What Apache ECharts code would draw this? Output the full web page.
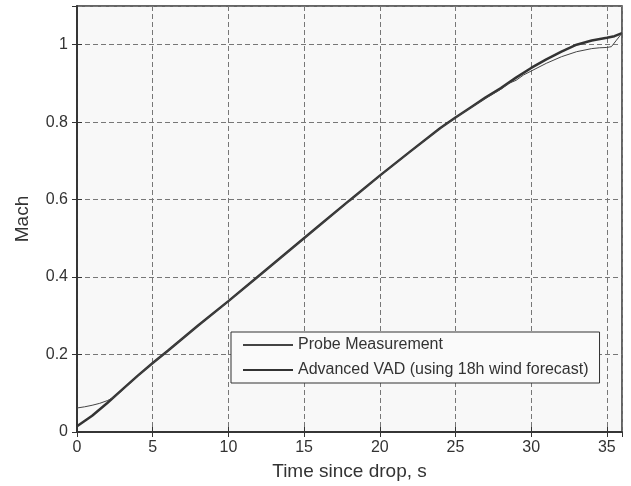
<!DOCTYPE html>
<html>
<head>
<meta charset="utf-8">
<script src="https://cdn.jsdelivr.net/npm/echarts@6/dist/echarts.min.js"></script>
<style>html,body{margin:0;padding:0;background:#fff}#chart{width:631px;height:486px}</style>
</head>
<body>
<div id="chart"></div>
<script>
// ==================== DATA ====================
const vadTime = [0, 1, 2, 3, 4, 5, 6, 8, 10, 12, 14, 16, 18, 20, 22, 24, 25, 26, 27, 28, 29, 30, 31, 32, 33, 34, 35, 35.5, 36];
const vadMach = [0.015, 0.042, 0.075, 0.11, 0.145, 0.178, 0.21, 0.275, 0.338, 0.403, 0.468, 0.533, 0.598, 0.662, 0.724, 0.785, 0.812, 0.838, 0.864, 0.888, 0.915, 0.94, 0.962, 0.982, 1.0, 1.011, 1.018, 1.022, 1.03];
const probeTime = [0, 0.5, 1, 1.5, 2, 2.5, 3, 4, 5, 6, 8, 10, 12, 14, 16, 18, 20, 22, 24, 25, 26, 27, 28, 28.5, 29, 29.5, 30, 31, 32, 33, 34, 34.5, 35, 35.3, 35.6, 36];
const probeMach = [0.062, 0.065, 0.069, 0.074, 0.081, 0.091, 0.108, 0.144, 0.178, 0.21, 0.274, 0.337, 0.402, 0.467, 0.532, 0.597, 0.661, 0.723, 0.784, 0.811, 0.837, 0.862, 0.885, 0.9, 0.908, 0.922, 0.932, 0.952, 0.969, 0.982, 0.99, 0.992, 0.993, 0.995, 1.01, 1.03];
const seriesNames = ['Probe Measurement', 'Advanced VAD (using 18h wind forecast)'];

const zip = (xs, ys) => xs.map((x, i) => [x, ys[i]]);

const chart = echarts.init(document.getElementById('chart'));
const textC = '#333';
const frame = { show: true, lineStyle: { color: '#333', width: 1.5 } };
const ticks = { show: true, inside: true, length: 5, lineStyle: { color: '#333' } };
const gridLine = { show: true, lineStyle: { color: '#777', type: [5, 3], width: 1 } };

chart.setOption({
  animation: false,
  backgroundColor: '#fff',
  textStyle: { fontFamily: 'Liberation Sans, Arial, sans-serif' },
  grid: { left: 77, right: 9, top: 6, bottom: 53, show: true, backgroundColor: '#f8f8f8', borderColor: '#333', borderWidth: 1.5 },
  xAxis: [{
    type: 'value', min: 0, max: 36, interval: 5,
    name: 'Time since drop, s', nameLocation: 'middle', nameGap: 30,
    nameTextStyle: { color: textC, fontSize: 19 },
    axisLine: frame, axisTick: ticks,
    axisLabel: { color: textC, fontSize: 16, margin: 8, showMaxLabel: false },
    splitLine: gridLine
  }, {
    type: 'value', min: 0, max: 36, interval: 5, position: 'top',
    axisLine: frame, axisTick: ticks, axisLabel: { show: false }, splitLine: { show: false }
  }],
  yAxis: [{
    type: 'value', min: 0, max: 1.1, interval: 0.2,
    name: 'Mach', nameLocation: 'middle', nameGap: 45,
    nameTextStyle: { color: textC, fontSize: 19 },
    axisLine: frame, axisTick: ticks,
    axisLabel: { color: textC, fontSize: 16, margin: 9, showMaxLabel: false },
    splitLine: gridLine
  }, {
    type: 'value', min: 0, max: 1.1, interval: 0.2, position: 'right',
    axisLine: frame, axisTick: ticks, axisLabel: { show: false }, splitLine: { show: false }
  }],
  legend: {
    orient: 'vertical', left: 231, top: 332,
    backgroundColor: '#fafafa', borderColor: '#333', borderWidth: 1, borderRadius: 0,
    padding: [5, 11, 5, 11], itemGap: 9, itemWidth: 50, itemHeight: 14,
    itemStyle: { opacity: 0 },
    textStyle: { color: textC, fontSize: 16 },
    data: seriesNames
  },
  series: [
    { name: seriesNames[0], type: 'line', data: zip(probeTime, probeMach), showSymbol: false, symbol: 'none',
      lineStyle: { color: '#444', width: 1 }, itemStyle: { color: '#444' }, z: 3 },
    { name: seriesNames[1], type: 'line', data: zip(vadTime, vadMach), showSymbol: false, symbol: 'none',
      lineStyle: { color: '#333', width: 2.5 }, itemStyle: { color: '#333' }, z: 2 }
  ]
});
</script>
</body>
</html>
